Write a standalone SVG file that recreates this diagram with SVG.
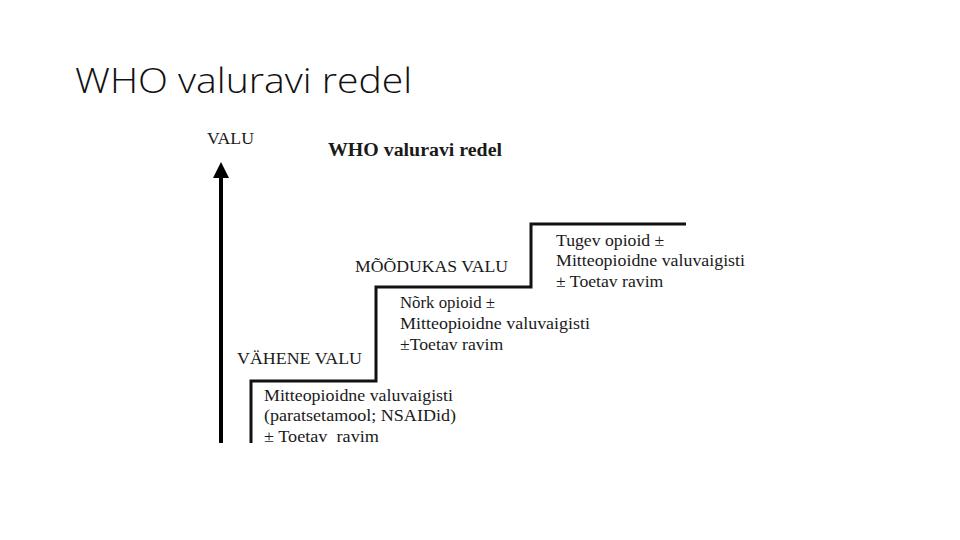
<svg xmlns="http://www.w3.org/2000/svg" width="960" height="540" viewBox="0 0 960 540">
<style>
.t{font-family:"Liberation Serif","Times New Roman",serif;font-size:17.7px;fill:#1a1a1a}
.b{font-weight:bold;font-size:18px}
.h{font-family:"Open Sans","Liberation Sans",sans-serif;font-weight:300;font-size:35px;fill:#111}
.step{fill:none;stroke:#111;stroke-width:3}
</style>
<rect width="960" height="540" fill="#fff"/>
<text class="h" x="75" y="93" textLength="337" lengthAdjust="spacingAndGlyphs">WHO valuravi redel</text>
<g id="axis">
<line x1="221" y1="443" x2="221" y2="176" stroke="#000" stroke-width="4"/>
<polygon points="221,162 213,178 229,178" fill="#000"/>
<text class="t" x="207" y="144" textLength="47" lengthAdjust="spacingAndGlyphs">VALU</text>
</g>
<g id="heading"><text class="t b" x="328" y="156" textLength="174" lengthAdjust="spacingAndGlyphs">WHO valuravi redel</text></g>
<g id="connectors">
<path class="step" d="M251,443 V381 H376 V287 H531 V224 H686"/>
</g>
<g id="step1">
<text class="t" x="237" y="364" textLength="125" lengthAdjust="spacingAndGlyphs">VÄHENE VALU</text>
<text class="t" x="264" y="401" textLength="189" lengthAdjust="spacingAndGlyphs">Mitteopioidne valuvaigisti</text>
<text class="t" x="264" y="421" textLength="192" lengthAdjust="spacingAndGlyphs">(paratsetamool; NSAIDid)</text>
<text class="t" x="264" y="442" xml:space="preserve" textLength="115" lengthAdjust="spacingAndGlyphs">± Toetav  ravim</text>
</g>
<g id="step2">
<text class="t" x="355" y="272" textLength="153" lengthAdjust="spacingAndGlyphs">MÕÕDUKAS VALU</text>
<text class="t" x="400" y="308" textLength="95" lengthAdjust="spacingAndGlyphs">Nõrk opioid ±</text>
<text class="t" x="400" y="329" textLength="190" lengthAdjust="spacingAndGlyphs">Mitteopioidne valuvaigisti</text>
<text class="t" x="400" y="350">±Toetav ravim</text>
</g>
<g id="step3">
<text class="t" x="556" y="246">Tugev opioid ±</text>
<text class="t" x="556" y="266" textLength="189" lengthAdjust="spacingAndGlyphs">Mitteopioidne valuvaigisti</text>
<text class="t" x="556" y="287">± Toetav ravim</text>
</g>
</svg>
